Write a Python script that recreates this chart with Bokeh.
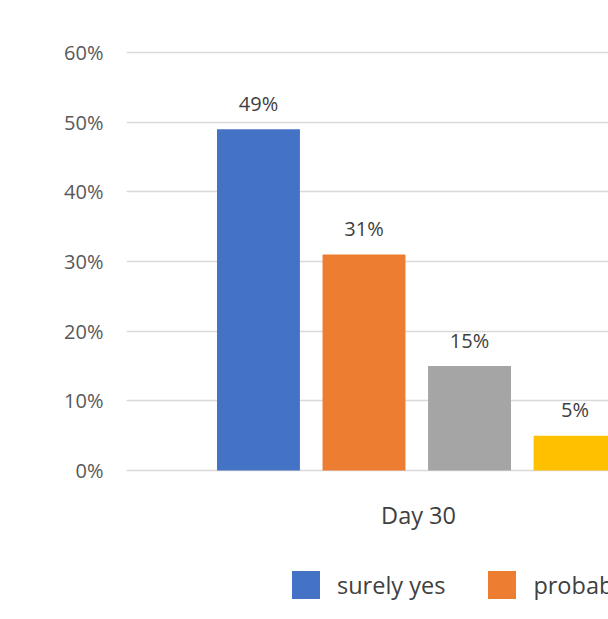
from bokeh.plotting import figure
from bokeh.models import (ColumnDataSource, Range1d, FixedTicker, NumeralTickFormatter,
                          Legend, LegendItem)
from bokeh.core.properties import value
from bokeh.embed import file_html
from bokeh.resources import INLINE

# Survey answers on day 30 (share of respondents)
category = "Day 30"
answers = ["surely yes", "probably yes", "probably not", "surely not"]
shares = [0.49, 0.31, 0.15, 0.05]
share_labels = ["49%", "31%", "15%", "5%"]
colors = ["#4472C4", "#ED7D31", "#A5A5A5", "#FFC000"]
y_ticks = [0.0, 0.1, 0.2, 0.3, 0.4, 0.5, 0.6]

FONT = "Open Sans"

# one category spans [0, 1] on the x scale; the four answers are dodged inside it
center = 0.5
pitch = 0.1807
bar_w = 0.142
group_center = center - 0.003
xs = [group_center + (k - (len(answers) - 1) / 2) * pitch for k in range(len(answers))]

src = ColumnDataSource(dict(x=xs, top=shares, label=share_labels,
                            color=colors, answer=answers))
cat_src = ColumnDataSource(dict(x=[center], y=[0.0], name=[category]))

# the frame runs down to the bottom edge so the category name and the
# legend can sit underneath the bars
p = figure(width=608, height=619, output_backend="svg", toolbar_location=None,
           x_range=Range1d(0, 0.8253), y_range=Range1d(-0.2139, 0.603),
           min_border_left=126, min_border_right=0, min_border_top=50,
           min_border_bottom=0, outline_line_color=None,
           background_fill_color="white", border_fill_color="white")

bars = p.vbar(x="x", top="top", width=bar_w, bottom=0, color="color",
              line_color=None, source=src)

p.text(x="x", y="top", text="label", source=src, text_align="center",
       text_baseline="alphabetic", y_offset=-26, text_font=value(FONT),
       text_font_size="20px", text_color="#404040")

# category name under the group of bars
p.text(x="x", y="y", text="name", source=cat_src, text_align="center",
       text_baseline="middle", y_offset=44, text_font=value(FONT),
       text_font_size="23.5px", text_color="#404040")

# y axis: percent ticks, no line or tick marks
p.yaxis.ticker = FixedTicker(ticks=y_ticks)
p.yaxis.formatter = NumeralTickFormatter(format="0%")
p.yaxis.axis_line_color = None
p.yaxis.major_tick_line_color = None
p.yaxis.minor_tick_line_color = None
p.yaxis.major_tick_out = 0
p.yaxis.major_tick_in = 0
p.yaxis.major_label_standoff = 23
p.yaxis.major_label_text_font = FONT
p.yaxis.major_label_text_font_size = "20px"
p.yaxis.major_label_text_color = "#595959"

p.xaxis.visible = False
p.xgrid.grid_line_color = None
p.ygrid.ticker = FixedTicker(ticks=y_ticks)
p.ygrid.grid_line_color = "#D9D9D9"
p.ygrid.grid_line_width = 1.5

# legend swatches are drawn at 80% of the glyph box
legend = Legend(
    items=[LegendItem(label=answers[0], renderers=[bars], index=0),
           LegendItem(label=answers[1], renderers=[bars], index=1)],
    orientation="horizontal", location=(162, 17),
    glyph_width=35, glyph_height=35, label_standoff=14, spacing=39,
    padding=0, margin=0, border_line_color=None, background_fill_alpha=0,
    label_text_font=FONT, label_text_font_size="23.5px", label_text_color="#404040",
)
p.add_layout(legend, "center")

open("out.html", "w").write(file_html(p, INLINE))
